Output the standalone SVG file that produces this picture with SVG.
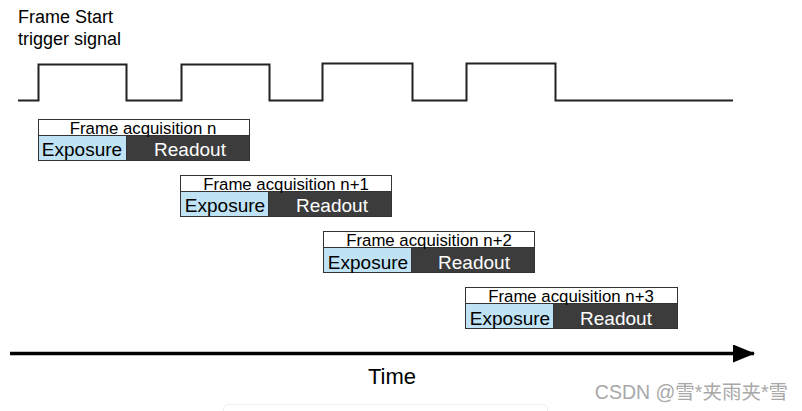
<svg xmlns="http://www.w3.org/2000/svg" width="802" height="411" viewBox="0 0 802 411">
<style>
.t{font-family:"Liberation Sans",Arial,sans-serif;fill:#000}
.ttl{font-size:16.8px;text-anchor:middle}
.exp{fill:#bfe3f5;stroke:#333;stroke-width:1}
.rd{fill:#3c3c3c;stroke:#333;stroke-width:1}
.hd{fill:#fff;stroke:#333;stroke-width:1}
.el{font-size:19px;text-anchor:middle}
.rl{font-size:19px;text-anchor:middle;fill:#fff}
</style>
<defs>
<marker id="ah" markerWidth="22" markerHeight="18" refX="21" refY="9" orient="auto" markerUnits="userSpaceOnUse">
<path d="M0,0 L22,9 L0,18 Z" fill="#000"/>
</marker>
</defs>
<rect width="802" height="411" fill="#fff"/>
<g id="label-trigger">
<text class="t" x="18" y="23" font-size="18">Frame Start</text>
<text class="t" x="18" y="45" font-size="18">trigger signal</text>
</g>
<g id="signal">
<path d="M18,100.5 H38.5 V64.5 H126.5 V100.5 H181.5 V64.5 H269.5 V100.5 H322.5 V63.5 H412.5 V100.5 H466.5 V63.5 H555.5 V100.5 H733" fill="none" stroke="#222" stroke-width="2"/>
</g>
<g id="frame-n">
<rect class="hd" x="38.5" y="119.5" width="211" height="16"/>
<rect class="exp" x="38.5" y="135.5" width="88" height="25"/>
<rect class="rd" x="126.5" y="135.5" width="123" height="25"/>
<text class="t ttl" x="143" y="133.5">Frame acquisition n</text>
<text class="t el" x="82" y="155.5">Exposure</text>
<text class="t rl" x="190" y="155.5">Readout</text>
</g>
<g id="frame-n1">
<rect class="hd" x="180.5" y="175.5" width="211" height="16"/>
<rect class="exp" x="180.5" y="191.5" width="88" height="25"/>
<rect class="rd" x="268.5" y="191.5" width="123" height="25"/>
<text class="t ttl" x="286" y="189.5">Frame acquisition n+1</text>
<text class="t el" x="225" y="211.5">Exposure</text>
<text class="t rl" x="332" y="211.5">Readout</text>
</g>
<g id="frame-n2">
<rect class="hd" x="323.5" y="231.5" width="211" height="16"/>
<rect class="exp" x="323.5" y="247.5" width="88" height="25"/>
<rect class="rd" x="411.5" y="247.5" width="123" height="25"/>
<text class="t ttl" x="429" y="245.5">Frame acquisition n+2</text>
<text class="t el" x="368" y="268.5">Exposure</text>
<text class="t rl" x="474" y="268.5">Readout</text>
</g>
<g id="frame-n3">
<rect class="hd" x="465.5" y="287.5" width="212" height="16"/>
<rect class="exp" x="465.5" y="303.5" width="88" height="25"/>
<rect class="rd" x="553.5" y="303.5" width="124" height="25"/>
<text class="t ttl" x="571" y="301.5">Frame acquisition n+3</text>
<text class="t el" x="510" y="324.5">Exposure</text>
<text class="t rl" x="616" y="324.5">Readout</text>
</g>
<g id="connectors">
<line x1="10" y1="353.5" x2="754" y2="353.5" stroke="#000" stroke-width="3.5" marker-end="url(#ah)"/>
</g>
<g id="label-time">
<text class="t" x="392" y="384" font-size="22" text-anchor="middle">Time</text>
</g>
<text x="788" y="399" font-family="'Liberation Sans','Noto Sans CJK SC',sans-serif" font-size="19.5" fill="#a8a8a8" text-anchor="end">CSDN @雪*夹雨夹*雪</text>
<rect x="223.5" y="404.5" width="324" height="20" rx="5" fill="none" stroke="#eeeeee" stroke-width="1"/>
</svg>
